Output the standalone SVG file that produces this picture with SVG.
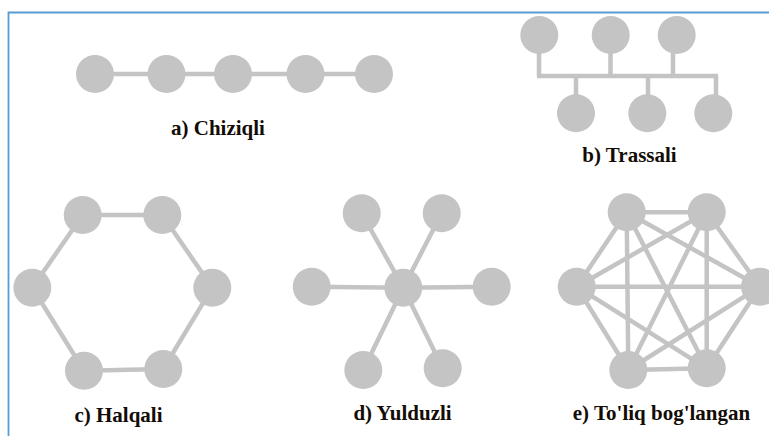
<svg xmlns="http://www.w3.org/2000/svg" width="769" height="436" viewBox="0 0 769 436">
  <style>
    .node { fill: #c4c4c4; }
    .link { stroke: #c4c4c4; stroke-width: 4.5; fill: none; }
    .label { font-family: "Liberation Serif", "Times New Roman", serif; font-weight: bold; font-size: 21px; fill: #140c06; text-anchor: middle; }
    .frame { stroke: #5b9bd5; stroke-width: 1.8; fill: none; }
  </style>
  <defs>
    <circle id="n" r="19" class="node"/>
  </defs>
  <rect width="769" height="436" fill="#ffffff"/>
  <!-- frame -->
  <path class="frame" d="M8.5 436 V12.5 H769"/>

  <!-- connectors -->
  <g id="connectors">
    <!-- a) line -->
    <path class="link" d="M95 74 H374"/>
    <!-- b) bus -->
    <path class="link" d="M539 35 V76 M610.5 35 V76 M673 35 V76 M537 76 H718 M576 76 V113 M648 76 V113 M716 76 V113"/>
    <!-- c) ring -->
    <path class="link" d="M82.7 215 L162.3 215 L212.3 287.7 L163.3 369 L84 370.7 L32.3 287.7 Z"/>
    <!-- d) star -->
    <path class="link" d="M403.3 287.7 L361.7 213.3 M403.3 287.7 L441.7 213.3 M403.3 287.7 L311.7 286.7 M403.3 287.7 L491.7 286.7 M403.3 287.7 L363.3 370 M403.3 287.7 L442.7 368.3"/>
    <!-- e) full mesh -->
    <path class="link" d="M626.7 212.3 L706.7 212.3 M626.7 212.3 L576.7 286.7 M626.7 212.3 L760 286.7 M626.7 212.3 L628.3 370 M626.7 212.3 L706.7 368.3
      M706.7 212.3 L576.7 286.7 M706.7 212.3 L760 286.7 M706.7 212.3 L628.3 370 M706.7 212.3 L706.7 368.3
      M576.7 286.7 L760 286.7 M576.7 286.7 L628.3 370 M576.7 286.7 L706.7 368.3
      M760 286.7 L628.3 370 M760 286.7 L706.7 368.3
      M628.3 370 L706.7 368.3"/>
  </g>

  <!-- a) Chiziqli -->
  <g id="linear">
    <use href="#n" x="95" y="74"/>
    <use href="#n" x="166.5" y="74"/>
    <use href="#n" x="233" y="74"/>
    <use href="#n" x="305.5" y="74"/>
    <use href="#n" x="374" y="74"/>
    <text class="label" x="218" y="135">a) Chiziqli</text>
  </g>

  <!-- b) Trassali -->
  <g id="bus">
    <use href="#n" x="539.3" y="35"/>
    <use href="#n" x="610.7" y="35"/>
    <use href="#n" x="676.7" y="35"/>
    <use href="#n" x="576" y="113.3"/>
    <use href="#n" x="647.3" y="113.3"/>
    <use href="#n" x="713.3" y="113.3"/>
    <text class="label" x="629.5" y="161.5">b) Trassali</text>
  </g>

  <!-- c) Halqali -->
  <g id="ring">
    <use href="#n" x="82.7" y="215"/>
    <use href="#n" x="162.3" y="215"/>
    <use href="#n" x="32.3" y="287.7"/>
    <use href="#n" x="212.3" y="287.7"/>
    <use href="#n" x="84" y="370.7"/>
    <use href="#n" x="163.3" y="369"/>
    <text class="label" x="118.5" y="421.5">c) Halqali</text>
  </g>

  <!-- d) Yulduzli -->
  <g id="star">
    <use href="#n" x="403.3" y="287.7"/>
    <use href="#n" x="361.7" y="213.3"/>
    <use href="#n" x="441.7" y="213.3"/>
    <use href="#n" x="311.7" y="286.7"/>
    <use href="#n" x="491.7" y="286.7"/>
    <use href="#n" x="363.3" y="370"/>
    <use href="#n" x="442.7" y="368.3"/>
    <text class="label" x="402.5" y="419.5">d) Yulduzli</text>
  </g>

  <!-- e) To'liq bog'langan -->
  <g id="mesh">
    <use href="#n" x="626.7" y="212.3"/>
    <use href="#n" x="706.7" y="212.3"/>
    <use href="#n" x="576.7" y="286.7"/>
    <use href="#n" x="760" y="286.7"/>
    <use href="#n" x="628.3" y="370"/>
    <use href="#n" x="706.7" y="368.3"/>
    <text class="label" x="661.5" y="419.5">e) To'liq bog'langan</text>
  </g>
</svg>
